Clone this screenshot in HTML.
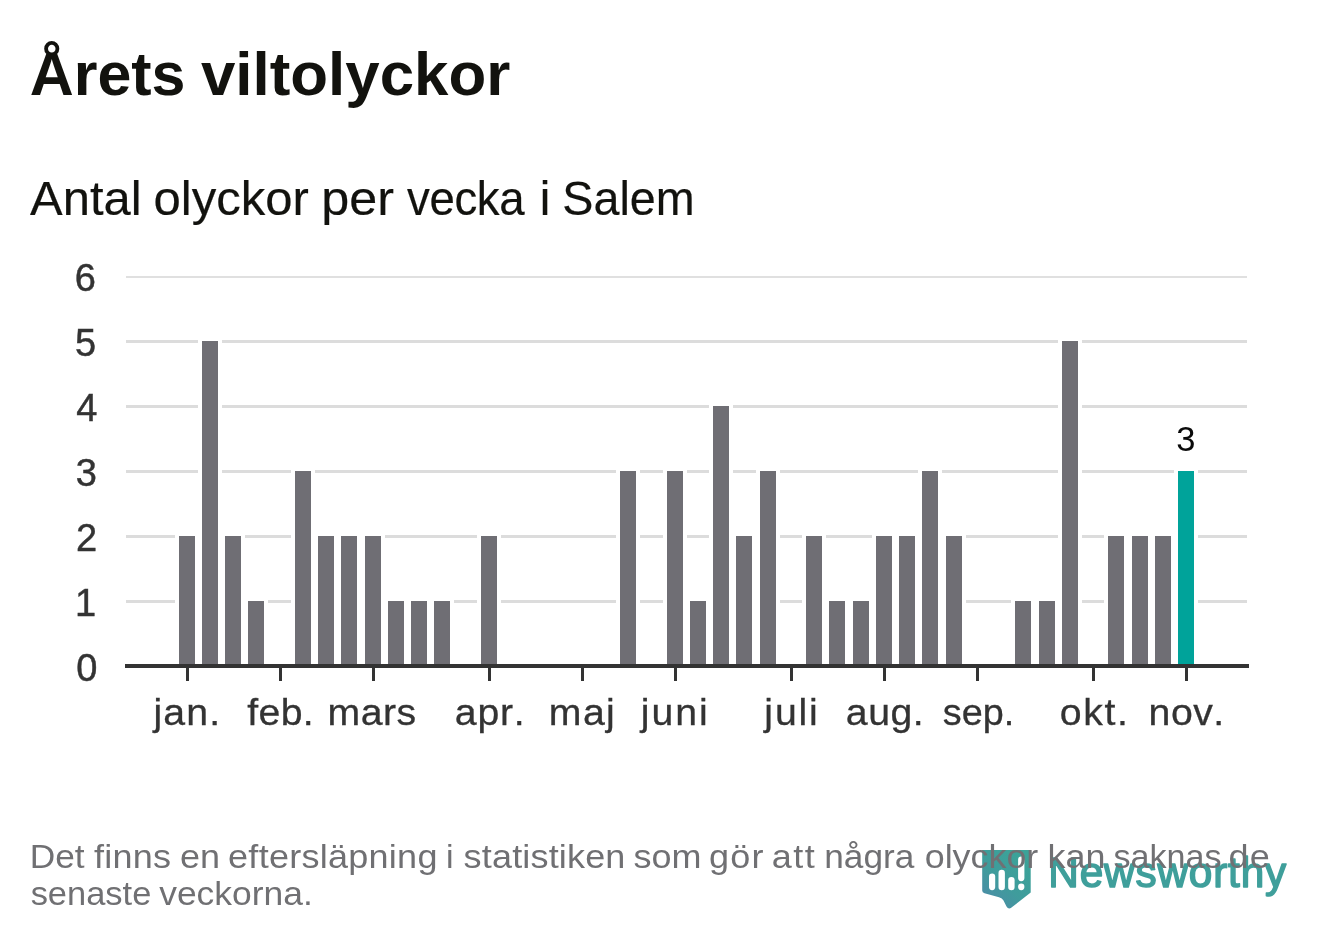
<!DOCTYPE html>
<html lang="sv"><head><meta charset="utf-8"><title>Årets viltolyckor</title>
<style>
html,body{margin:0;padding:0;background:#fff;}
body{width:1322px;height:939px;overflow:hidden;font-family:"Liberation Sans", sans-serif;}
svg{display:block;position:absolute;left:0;top:0;}
text{font-family:"Liberation Sans", sans-serif;font-kerning:none;white-space:pre;}
.title{font-weight:700;font-size:61.5px;fill:#12120e;}
.sub{font-size:47.5px;fill:#12120e;stroke:#12120e;stroke-width:0.2px;}
.ytick{font-size:38.0px;fill:#333333;stroke:#333333;stroke-width:0.45px;}
.xtick{font-size:37.0px;fill:#333333;stroke:#333333;stroke-width:0.3px;}
.ann{font-size:34.5px;fill:#0a0a0a;text-anchor:middle;}
.note{font-size:34.0px;fill:#707073;}
.brand{font-size:42.0px;font-weight:400;fill:#3f9f9b;stroke:#3f9f9b;stroke-width:1.5px;stroke-linejoin:round;}
</style></head><body>
<svg width="1322" height="939" viewBox="0 0 1322 939">
<rect x="0" y="0" width="1322" height="939" fill="#ffffff"/>
<g class="title"><text transform="translate(29.68 94.80) scale(0.9910 1)">Årets</text> <text transform="translate(200.96 94.80) scale(1.0060 1)">viltolyckor</text></g>
<g class="sub"><text transform="translate(30.10 214.90) scale(1.0296 1)">Antal</text> <text transform="translate(153.54 214.90) scale(1.0327 1)">olyckor</text> <text transform="translate(321.26 214.90) scale(1.0586 1)">per</text> <text transform="translate(406.94 214.90) scale(0.9600 1)" style="letter-spacing:-0.356px">vecka</text> <text x="539.84" y="214.90">i</text> <text transform="translate(562.28 214.90) scale(0.9834 1)">Salem</text></g>
<g fill="#dcdcdc" shape-rendering="crispEdges">
<rect x="126" y="600" width="1121" height="3"/>
<rect x="126" y="535" width="1121" height="3"/>
<rect x="126" y="470" width="1121" height="3"/>
<rect x="126" y="405" width="1121" height="3"/>
<rect x="126" y="340" width="1121" height="3"/>
<rect x="126" y="276" width="1121" height="2" fill="#e0e0e0"/>
</g>
<g class="ytick">
<text x="76.28" y="680.70">0</text>
<text x="75.11" y="615.70">1</text>
<text x="76.08" y="550.70">2</text>
<text x="75.74" y="485.70">3</text>
<text x="76.15" y="420.70">4</text>
<text x="75.02" y="355.70">5</text>
<text x="74.85" y="290.70">6</text>
</g>
<g shape-rendering="crispEdges">
<rect x="175" y="532" width="24" height="134" fill="#ffffff"/>
<rect x="179" y="536" width="16" height="130" fill="#6f6e74"/>
<rect x="198" y="337" width="24" height="329" fill="#ffffff"/>
<rect x="202" y="341" width="16" height="325" fill="#6f6e74"/>
<rect x="221" y="532" width="24" height="134" fill="#ffffff"/>
<rect x="225" y="536" width="16" height="130" fill="#6f6e74"/>
<rect x="244" y="597" width="24" height="69" fill="#ffffff"/>
<rect x="248" y="601" width="16" height="65" fill="#6f6e74"/>
<rect x="291" y="467" width="24" height="199" fill="#ffffff"/>
<rect x="295" y="471" width="16" height="195" fill="#6f6e74"/>
<rect x="314" y="532" width="24" height="134" fill="#ffffff"/>
<rect x="318" y="536" width="16" height="130" fill="#6f6e74"/>
<rect x="337" y="532" width="24" height="134" fill="#ffffff"/>
<rect x="341" y="536" width="16" height="130" fill="#6f6e74"/>
<rect x="361" y="532" width="24" height="134" fill="#ffffff"/>
<rect x="365" y="536" width="16" height="130" fill="#6f6e74"/>
<rect x="384" y="597" width="24" height="69" fill="#ffffff"/>
<rect x="388" y="601" width="16" height="65" fill="#6f6e74"/>
<rect x="407" y="597" width="24" height="69" fill="#ffffff"/>
<rect x="411" y="601" width="16" height="65" fill="#6f6e74"/>
<rect x="430" y="597" width="24" height="69" fill="#ffffff"/>
<rect x="434" y="601" width="16" height="65" fill="#6f6e74"/>
<rect x="477" y="532" width="24" height="134" fill="#ffffff"/>
<rect x="481" y="536" width="16" height="130" fill="#6f6e74"/>
<rect x="616" y="467" width="24" height="199" fill="#ffffff"/>
<rect x="620" y="471" width="16" height="195" fill="#6f6e74"/>
<rect x="663" y="467" width="24" height="199" fill="#ffffff"/>
<rect x="667" y="471" width="16" height="195" fill="#6f6e74"/>
<rect x="686" y="597" width="24" height="69" fill="#ffffff"/>
<rect x="690" y="601" width="16" height="65" fill="#6f6e74"/>
<rect x="709" y="402" width="24" height="264" fill="#ffffff"/>
<rect x="713" y="406" width="16" height="260" fill="#6f6e74"/>
<rect x="732" y="532" width="24" height="134" fill="#ffffff"/>
<rect x="736" y="536" width="16" height="130" fill="#6f6e74"/>
<rect x="756" y="467" width="24" height="199" fill="#ffffff"/>
<rect x="760" y="471" width="16" height="195" fill="#6f6e74"/>
<rect x="802" y="532" width="24" height="134" fill="#ffffff"/>
<rect x="806" y="536" width="16" height="130" fill="#6f6e74"/>
<rect x="825" y="597" width="24" height="69" fill="#ffffff"/>
<rect x="829" y="601" width="16" height="65" fill="#6f6e74"/>
<rect x="849" y="597" width="24" height="69" fill="#ffffff"/>
<rect x="853" y="601" width="16" height="65" fill="#6f6e74"/>
<rect x="872" y="532" width="24" height="134" fill="#ffffff"/>
<rect x="876" y="536" width="16" height="130" fill="#6f6e74"/>
<rect x="895" y="532" width="24" height="134" fill="#ffffff"/>
<rect x="899" y="536" width="16" height="130" fill="#6f6e74"/>
<rect x="918" y="467" width="24" height="199" fill="#ffffff"/>
<rect x="922" y="471" width="16" height="195" fill="#6f6e74"/>
<rect x="942" y="532" width="24" height="134" fill="#ffffff"/>
<rect x="946" y="536" width="16" height="130" fill="#6f6e74"/>
<rect x="1011" y="597" width="24" height="69" fill="#ffffff"/>
<rect x="1015" y="601" width="16" height="65" fill="#6f6e74"/>
<rect x="1035" y="597" width="24" height="69" fill="#ffffff"/>
<rect x="1039" y="601" width="16" height="65" fill="#6f6e74"/>
<rect x="1058" y="337" width="24" height="329" fill="#ffffff"/>
<rect x="1062" y="341" width="16" height="325" fill="#6f6e74"/>
<rect x="1104" y="532" width="24" height="134" fill="#ffffff"/>
<rect x="1108" y="536" width="16" height="130" fill="#6f6e74"/>
<rect x="1128" y="532" width="24" height="134" fill="#ffffff"/>
<rect x="1132" y="536" width="16" height="130" fill="#6f6e74"/>
<rect x="1151" y="532" width="24" height="134" fill="#ffffff"/>
<rect x="1155" y="536" width="16" height="130" fill="#6f6e74"/>
<rect x="1174" y="467" width="24" height="199" fill="#ffffff"/>
<rect x="1178" y="471" width="16" height="195" fill="#00a39a"/>
</g>
<g fill="#333333" shape-rendering="crispEdges">
<rect x="124.7" y="664" width="1124" height="4"/>
<rect x="186" y="666" width="3" height="15"/>
<rect x="279" y="666" width="3" height="15"/>
<rect x="372" y="666" width="3" height="15"/>
<rect x="488" y="666" width="3" height="15"/>
<rect x="581" y="666" width="3" height="15"/>
<rect x="674" y="666" width="3" height="15"/>
<rect x="790" y="666" width="3" height="15"/>
<rect x="883" y="666" width="3" height="15"/>
<rect x="976" y="666" width="3" height="15"/>
<rect x="1092" y="666" width="3" height="15"/>
<rect x="1185" y="666" width="3" height="15"/>
</g>
<g class="xtick"><text transform="translate(153.46 724.70) scale(1.0600 1)" style="letter-spacing:1.129px">jan.</text></g>
<g class="xtick"><text transform="translate(247.24 724.70) scale(1.0600 1)" style="letter-spacing:0.352px">feb.</text></g>
<g class="xtick"><text transform="translate(327.60 724.70) scale(1.0600 1)" style="letter-spacing:0.399px">mars</text></g>
<g class="xtick"><text transform="translate(454.83 724.70) scale(1.0600 1)" style="letter-spacing:0.744px">apr.</text></g>
<g class="xtick"><text transform="translate(548.80 724.70) scale(1.0600 1)" style="letter-spacing:1.345px">maj</text></g>
<g class="xtick"><text transform="translate(640.86 724.70) scale(1.0600 1)" style="letter-spacing:1.866px">juni</text></g>
<g class="xtick"><text transform="translate(764.36 724.70) scale(1.0600 1)" style="letter-spacing:1.708px">juli</text></g>
<g class="xtick"><text transform="translate(845.83 724.70) scale(1.0600 1)" style="letter-spacing:0.507px">aug.</text></g>
<g class="xtick"><text transform="translate(942.75 724.70) scale(1.0210 1)">sep.</text></g>
<g class="xtick"><text transform="translate(1059.85 724.70) scale(1.0600 1)" style="letter-spacing:1.545px">okt.</text></g>
<g class="xtick"><text transform="translate(1148.60 724.70) scale(1.0600 1)" style="letter-spacing:0.457px">nov.</text></g>
<text class="ann" x="1185.85" y="451.2">3</text>
<defs><linearGradient id="lg" gradientUnits="userSpaceOnUse" x1="984" y1="904" x2="1026" y2="856"><stop offset="0" stop-color="#4d8aa8"/><stop offset="0.45" stop-color="#3f9c9c"/><stop offset="1" stop-color="#3ba398"/></linearGradient></defs>
<g fill="url(#lg)">
<path d="M982.2 850 H1030.7 V892.5 L1011.5 907.5 Q1008.5 909.8 1006.5 906.5 L1003.5 900.5 Q1002.3 898.2 999 897.3 L984.5 893.3 Q982.2 892.6 982.2 890.5 Z"/>
</g>
<g fill="#ffffff">
<rect x="989.0" y="873.5" width="6.2" height="16.7" rx="3.1"/>
<rect x="998.5" y="869.8" width="6.4" height="20.4" rx="3.2"/>
<rect x="1008.2" y="877.0" width="6.4" height="13.2" rx="3.2"/>
<rect x="1018.1" y="856.6" width="6.3" height="24.6" rx="3.1"/>
<rect x="1018.1" y="883.6" width="6.3" height="6.6" rx="3.1"/>
</g>
<text class="brand" transform="translate(1051.75 886.9) scale(1.0086 1)" x="-3.45" y="0" style="letter-spacing:0.80px">Newsworthy</text>
<g class="note"><text transform="translate(29.70 867.90) scale(1.0387 1)">Det</text> <text transform="translate(93.89 867.90) scale(1.0600 1)" style="letter-spacing:0.256px">finns</text> <text transform="translate(179.97 867.90) scale(1.0595 1)">en</text> <text transform="translate(228.07 867.90) scale(1.0600 1)" style="letter-spacing:0.243px">eftersläpning</text> <text x="445.93" y="867.90">i</text> <text transform="translate(463.60 867.90) scale(1.0600 1)" style="letter-spacing:0.151px">statistiken</text> <text transform="translate(633.40 867.90) scale(1.0583 1)">som</text> <text transform="translate(708.99 867.90) scale(1.0600 1)" style="letter-spacing:1.143px">gör</text> <text transform="translate(771.87 867.90) scale(1.0600 1)" style="letter-spacing:1.380px">att</text> <text transform="translate(824.26 867.90) scale(1.0366 1)">några</text> <text transform="translate(924.69 867.90) scale(1.0549 1)">olyckor</text> <text transform="translate(1047.58 867.90) scale(1.0572 1)">kan</text> <text transform="translate(1113.55 867.90) scale(1.0033 1)">saknas</text> <text transform="translate(1228.39 867.90) scale(1.0600 1)" style="letter-spacing:1.158px">de</text></g>
<g class="note"><text transform="translate(30.64 905.40) scale(1.0135 1)">senaste</text> <text transform="translate(159.18 905.40) scale(1.0424 1)">veckorna.</text></g>
</svg>
</body></html>
